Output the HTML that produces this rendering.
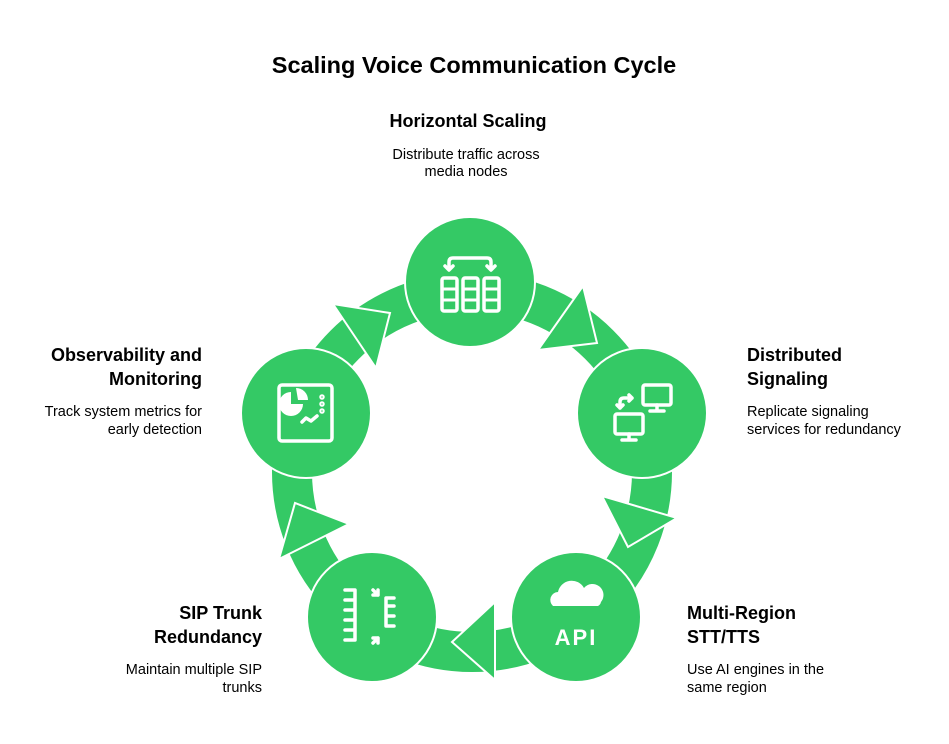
<!DOCTYPE html>
<html><head><meta charset="utf-8"><style>
body{margin:0;background:#fff;}
svg{display:block}
text{font-family:"Liberation Sans",sans-serif;fill:#000}
.h{font-size:18px;font-weight:bold}
.d{font-size:14.5px}
</style></head><body>
<svg width="949" height="744" viewBox="0 0 949 744">
<text x="474" y="73" text-anchor="middle" style="font-size:23.5px;font-weight:bold">Scaling Voice Communication Cycle</text>
<text class="h" x="468" y="127" text-anchor="middle">Horizontal Scaling</text>
<text class="d" x="466" y="159" text-anchor="middle">Distribute traffic across</text>
<text class="d" x="466" y="176" text-anchor="middle">media nodes</text>
<text class="h" x="202" y="361" text-anchor="end">Observability and</text>
<text class="h" x="202" y="385" text-anchor="end">Monitoring</text>
<text class="d" x="202" y="416" text-anchor="end">Track system metrics for</text>
<text class="d" x="202" y="434" text-anchor="end">early detection</text>
<text class="h" x="747" y="361">Distributed</text>
<text class="h" x="747" y="385">Signaling</text>
<text class="d" x="747" y="416">Replicate signaling</text>
<text class="d" x="747" y="434">services for redundancy</text>
<text class="h" x="262" y="619" text-anchor="end">SIP Trunk</text>
<text class="h" x="262" y="643" text-anchor="end">Redundancy</text>
<text class="d" x="262" y="674" text-anchor="end">Maintain multiple SIP</text>
<text class="d" x="262" y="692" text-anchor="end">trunks</text>
<text class="h" x="687" y="619">Multi-Region</text>
<text class="h" x="687" y="643">STT/TTS</text>
<text class="d" x="687" y="674">Use AI engines in the</text>
<text class="d" x="687" y="692">same region</text>

<g fill="#34C965">
<circle cx="472" cy="472" r="180" fill="none" stroke="#34C965" stroke-width="40"/>
<g stroke="#fff" stroke-width="2" stroke-linejoin="miter">
<polygon points="333,304 390,313 376,368"/>
<polygon points="583,286 597,343 538,350"/>
<polygon points="677,518 628,547 602,496"/>
<polygon points="495,602 452,642 495,680"/>
<polygon points="279,559 295,503 349,524"/>
</g>
<g stroke="#fff" stroke-width="2">
<circle cx="470" cy="282" r="65"/>
<circle cx="642" cy="413" r="65"/>
<circle cx="306" cy="413" r="65"/>
<circle cx="372" cy="617" r="65"/>
<circle cx="576" cy="617" r="65"/>
</g>
</g>
<!-- icons -->
<g fill="none" stroke="#fff" stroke-width="3.5" stroke-linecap="round" stroke-linejoin="round">
<rect x="442" y="278" width="15" height="33" rx="2"/><rect x="463" y="278" width="15" height="33" rx="2"/><rect x="484" y="278" width="15" height="33" rx="2"/>
<path d="M442 289 h15 M442 300 h15 M463 289 h15 M463 300 h15 M484 289 h15 M484 300 h15" stroke-width="3"/>
<path d="M449 268 v-6 q0-4 4-4 h34 q4 0 4 4 v6 M445 266 l4 4 l4-4 M487 266 l4 4 l4-4"/>
<rect x="643" y="385" width="28" height="20" rx="2"/><path d="M657 405 v5 M650 411 h14"/>
<rect x="615" y="414" width="28" height="20" rx="2"/><path d="M629 434 v5 M622 440 h14"/>
<path d="M620 408 v-6 q0-4 4-4 h8 M629 395 l3 3 l-3 3 M617 405 l3 3 l3-3"/>
<rect x="279" y="385" width="53" height="56" rx="3"/>
<path d="M302 422 l4 -4 l5 3 l6-5" />
<circle cx="322" cy="397" r="1" /><circle cx="322" cy="404" r="1"/><circle cx="322" cy="411" r="1"/>
<path d="M345 590 h10 v50 h-10 M345 600 h10 M345 610 h10 M345 620 h10 M345 630 h10 M394 598 h-8 v28 h8 M386 606 h8 M386 616 h8"/>
<path d="M373 590 l5 5 M378 590 v5 h-5 M373 643 l5 -5 M373 638 h5 v5"/>
</g>
<path d="M291 392 a12 12 0 1 0 12 12 h-12 z" fill="#fff"/>
<path d="M296 388 a12 12 0 0 1 12 12 h-10 z" fill="#fff"/>
<path d="M553 606 a8 8 0 0 1 5-14 a14 14 0 0 1 26-4 a11 11 0 0 1 17 14 a6 6 0 0 1 -3 4 z" fill="#fff"/>
<text x="576" y="645" text-anchor="middle" style="font-size:22px;font-weight:bold;fill:#fff;letter-spacing:2px">API</text>
</svg>
</body></html>
